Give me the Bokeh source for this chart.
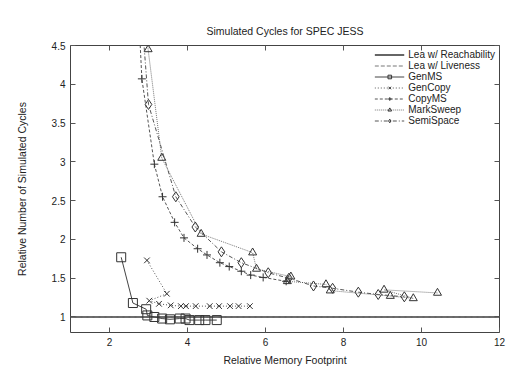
from bokeh.plotting import figure
from bokeh.models import Range1d, LinearAxis, FixedTicker, Legend, LegendItem
from bokeh.embed import file_html
from bokeh.resources import INLINE

# ---- data ----
lea_x = [1, 12]
lea_reach_y = [1.0, 1.0]
lea_live_y = [1.0, 1.0]

genms_x = [2.30, 2.60, 2.94, 2.97, 3.15, 3.35, 3.55, 3.80, 3.95, 4.05, 4.30, 4.46, 4.75]
genms_y = [1.77, 1.18, 1.10, 1.02, 1.00, 0.98, 0.97, 0.98, 0.98, 0.96, 0.96, 0.96, 0.96]

gencopy_x = [2.96, 3.47, 3.02, 3.27, 3.57, 3.83, 3.96, 4.21, 4.57, 4.81, 5.09, 5.31, 5.60]
gencopy_y = [1.73, 1.30, 1.21, 1.17, 1.15, 1.14, 1.14, 1.14, 1.14, 1.14, 1.14, 1.14, 1.14]

copyms_x = [2.68, 2.83, 3.15, 3.36, 3.67, 3.91, 4.26, 4.50, 4.83, 5.07, 5.38, 5.62, 5.94, 6.53]
copyms_y = [5.60, 4.07, 2.97, 2.55, 2.22, 2.02, 1.88, 1.80, 1.70, 1.65, 1.59, 1.54, 1.51, 1.46]

marksweep_x = [2.90, 2.99, 3.34, 4.35, 5.67, 5.77, 6.65, 6.56, 7.55, 7.66, 9.20, 9.79, 9.04, 10.41]
marksweep_y = [5.40, 4.45, 3.05, 2.07, 1.83, 1.62, 1.52, 1.46, 1.42, 1.34, 1.27, 1.24, 1.35, 1.31]

semispace_x = [2.75, 3.00, 3.70, 4.20, 4.87, 5.38, 6.07, 6.60, 7.23, 7.72, 8.38, 8.89, 9.56]
semispace_y = [5.40, 3.74, 2.55, 2.16, 1.84, 1.70, 1.57, 1.50, 1.40, 1.37, 1.32, 1.29, 1.26]

x_ticks = [2, 4, 6, 8, 10, 12]
y_ticks = [1, 1.5, 2, 2.5, 3, 3.5, 4, 4.5]

FONT = "Liberation Sans"
LINE = "#555555"
MK = "#333333"

p = figure(
    output_backend="svg", toolbar_location=None,
    frame_width=429, frame_height=287,
    x_range=Range1d(1, 12), y_range=Range1d(0.8, 4.5),
    min_border_left=70, min_border_top=45, min_border_right=12, min_border_bottom=28,
    title="Simulated Cycles for SPEC JESS",
)
p.title.align = "center"
p.title.text_font = FONT
p.title.text_font_size = "10.5px"
p.title.text_font_style = "normal"
p.title.text_color = "#222222"
p.title.standoff = 17
p.grid.visible = False
p.outline_line_color = "#444444"
p.outline_line_width = 1

p.xaxis.axis_label = "Relative Memory Footprint"
p.yaxis.axis_label = "Relative Number of Simulated Cycles"
for ax in (p.xaxis[0], p.yaxis[0]):
    ax.axis_label_text_font = FONT
    ax.axis_label_text_font_size = "10.5px"
    ax.axis_label_text_font_style = "normal"
    ax.axis_label_text_color = "#222222"
    ax.major_label_text_font = FONT
    ax.major_label_text_font_size = "10px"
    ax.major_label_text_color = "#222222"
    ax.major_tick_in = 5
    ax.major_tick_out = 0
    ax.minor_tick_in = 0
    ax.minor_tick_out = 0
    ax.axis_line_color = None
    ax.major_tick_line_color = "#555555"
    ax.axis_label_standoff = 5
    ax.major_label_standoff = 5
p.xaxis.ticker = FixedTicker(ticks=x_ticks)
p.yaxis.ticker = FixedTicker(ticks=y_ticks)
p.yaxis.axis_label_standoff = 21

for loc in ("above", "right"):
    tks = x_ticks if loc == "above" else y_ticks
    a = LinearAxis(ticker=FixedTicker(ticks=tks))
    a.major_label_overrides = {t: "" for t in tks}
    a.major_label_standoff = 0
    a.major_tick_in = 5
    a.major_tick_out = 0
    a.minor_tick_in = 0
    a.minor_tick_out = 0
    a.axis_line_color = None
    a.major_tick_line_color = "#555555"
    p.add_layout(a, loc)

r1 = p.line(lea_x, lea_reach_y, line_color="#333333", line_width=1.6)
r2 = p.line(lea_x, lea_live_y, line_color="#777777", line_width=1, line_dash="4 2")

l3 = p.line(genms_x, genms_y, line_color="#444444", line_width=1)
m3 = p.scatter(genms_x, genms_y, marker="square", size=9, fill_color=None, line_color=MK, line_width=1)

l4 = p.line(gencopy_x, gencopy_y, line_color=LINE, line_width=1, line_dash="1 2")
m4 = p.scatter(gencopy_x, gencopy_y, marker="x", size=8, line_color=MK, line_width=1)

l5 = p.line(copyms_x, copyms_y, line_color=LINE, line_width=1, line_dash="3 2")
m5 = p.scatter(copyms_x, copyms_y, marker="cross", size=8, line_color=MK, line_width=1)

l6 = p.line(marksweep_x, marksweep_y, line_color="#777777", line_width=1, line_dash="1 1")
m6 = p.scatter(marksweep_x, marksweep_y, marker="triangle", size=8, fill_color=None, line_color=MK, line_width=1)

l7 = p.line(semispace_x, semispace_y, line_color=LINE, line_width=1, line_dash="4 2 1 2")
m7 = p.scatter(semispace_x, semispace_y, marker="diamond", size=10, fill_color=None, line_color=MK, line_width=1)

legend = Legend(items=[
    LegendItem(label="Lea w/ Reachability", renderers=[r1]),
    LegendItem(label="Lea w/ Liveness", renderers=[r2]),
    LegendItem(label="GenMS", renderers=[l3, m3]),
    LegendItem(label="GenCopy", renderers=[l4, m4]),
    LegendItem(label="CopyMS", renderers=[l5, m5]),
    LegendItem(label="MarkSweep", renderers=[l6, m6]),
    LegendItem(label="SemiSpace", renderers=[l7, m7]),
], location="top_right")
legend.border_line_color = None
legend.background_fill_alpha = 0
legend.label_text_font = FONT
legend.label_text_font_size = "10px"
legend.label_text_color = "#222222"
legend.label_height = 9
legend.glyph_height = 9
legend.glyph_width = 30
legend.spacing = 0
legend.padding = 4
legend.margin = 4
legend.label_standoff = 4
p.add_layout(legend)

open("out.html", "w").write(file_html(p, INLINE))
